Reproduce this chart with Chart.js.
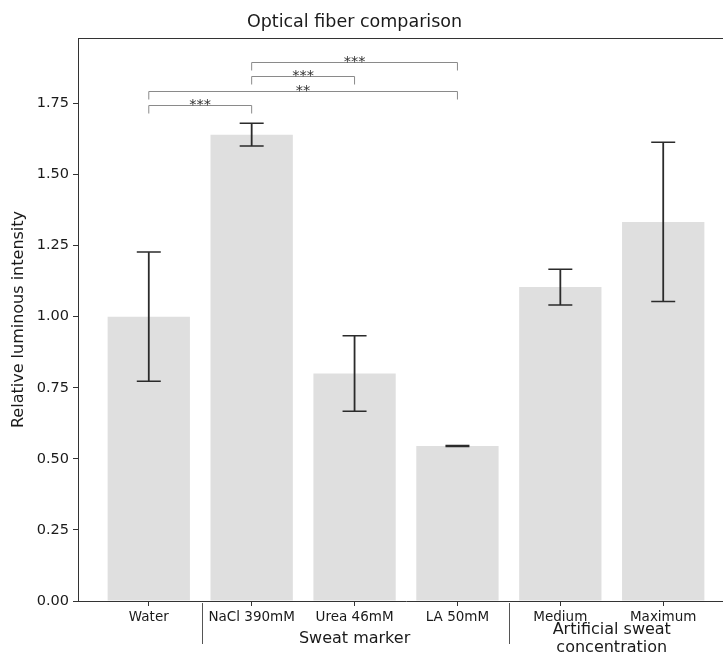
<!DOCTYPE html>
<html><head><meta charset="utf-8">
<script src="https://cdn.jsdelivr.net/npm/chart.js@4"></script>
<style>html,body{margin:0;padding:0;overflow:hidden;background:#fff}canvas{display:block}</style>
</head><body>
<canvas id="c" width="740" height="657"></canvas>
<script>
// ---- data ----
const categories = ['Water', 'NaCl 390mM', 'Urea 46mM', 'LA 50mM', 'Medium', 'Maximum'];
const meanValues = [1.00, 1.64, 0.80, 0.545, 1.104, 1.333];
const errorValues = [0.227, 0.04, 0.133, 0.002, 0.063, 0.28];
const yTickValues = [0, 0.25, 0.5, 0.75, 1.0, 1.25, 1.5, 1.75];
const groupLabels = [['Sweat marker'], ['Artificial sweat', 'concentration']];
const groupCenters = [2, 4.5];
const groupSeparators = [0.52, 3.5];
const bracketFrom = [0, 0, 1, 1];
const bracketTo = [1, 3, 2, 3];
const bracketLevel = [1.745, 1.795, 1.845, 1.895];
const bracketText = ['***', '**', '***', '***'];
const titleText = 'Optical fiber comparison';
const yTitleText = 'Relative luminous intensity';

const FONT = "'DejaVu Sans', 'Liberation Sans', sans-serif";

const overlay = {
  id: 'overlay',
  afterDatasetsDraw(chart) {
    const {ctx, scales: {x, y}} = chart;
    ctx.save();
    ctx.strokeStyle = '#2b2b2b';
    meanValues.forEach((m, i) => {
      const px = x.getPixelForValue(i);
      const top = y.getPixelForValue(m + errorValues[i]);
      const bot = y.getPixelForValue(m - errorValues[i]);
      ctx.lineWidth = 1.8;
      ctx.beginPath(); ctx.moveTo(px, top); ctx.lineTo(px, bot); ctx.stroke();
      ctx.lineWidth = 1.5;
      ctx.beginPath();
      ctx.moveTo(px - 12, top); ctx.lineTo(px + 12, top);
      ctx.moveTo(px - 12, bot); ctx.lineTo(px + 12, bot);
      ctx.stroke();
    });
    // significance brackets
    bracketFrom.forEach((f, i) => {
      const x1 = x.getPixelForValue(f);
      const x2 = x.getPixelForValue(bracketTo[i]);
      const py = Math.round(y.getPixelForValue(bracketLevel[i])) + 0.5;
      ctx.strokeStyle = '#8a8a8a';
      ctx.lineWidth = 1;
      ctx.beginPath();
      ctx.moveTo(x1, py + 8); ctx.lineTo(x1, py); ctx.lineTo(x2, py); ctx.lineTo(x2, py + 8);
      ctx.stroke();
      ctx.fillStyle = '#333';
      ctx.font = '14.5px ' + FONT;
      ctx.textAlign = 'center';
      ctx.textBaseline = 'alphabetic';
      ctx.fillText(bracketText[i], (x1 + x2) / 2, py + 3);
    });
    ctx.restore();
  },
  afterDraw(chart) {
    const {ctx, scales: {x}, chartArea: ca} = chart;
    ctx.save();
    // top spine
    ctx.strokeStyle = '#333';
    ctx.lineWidth = 1;
    ctx.beginPath();
    ctx.moveTo(ca.left, Math.round(ca.top) + 0.5);
    ctx.lineTo(ca.right, Math.round(ca.top) + 0.5);
    ctx.stroke();
    // title
    ctx.fillStyle = '#1a1a1a';
    ctx.font = '17.5px ' + FONT;
    ctx.textAlign = 'center';
    ctx.textBaseline = 'alphabetic';
    ctx.fillText(titleText, 354.5, 26.5);
    // y title
    ctx.save();
    ctx.translate(19, (ca.top + ca.bottom) / 2);
    ctx.rotate(-Math.PI / 2);
    ctx.font = '16px ' + FONT;
    ctx.textBaseline = 'middle';
    ctx.fillText(yTitleText, 0, 0);
    ctx.restore();
    // group separators
    ctx.strokeStyle = '#555';
    ctx.lineWidth = 1;
    groupSeparators.forEach(s => {
      const px = Math.round(x.getPixelForValue(s)) + 0.5;
      ctx.beginPath(); ctx.moveTo(px, 603); ctx.lineTo(px, 644); ctx.stroke();
    });
    // group labels
    ctx.font = '16px ' + FONT;
    ctx.fillStyle = '#1a1a1a';
    ctx.textBaseline = 'middle';
    groupLabels.forEach((lines, g) => {
      const px = x.getPixelForValue(groupCenters[g]);
      const start = lines.length === 1 ? 639 : 630;
      lines.forEach((t, k) => ctx.fillText(t, px, start + k * 17.5));
    });
    ctx.restore();
  }
};

new Chart(document.getElementById('c'), {
  type: 'bar',
  data: {
    datasets: [{
      data: meanValues.map((v, i) => ({x: i, y: v})),
      backgroundColor: 'rgb(223,223,223)',
      borderWidth: 0,
      barPercentage: 1.0,
      categoryPercentage: 0.8
    }]
  },
  options: {
    responsive: false,
    animation: false,
    layout: {padding: {top: 38, right: 6, left: 0, bottom: 0}},
    plugins: {legend: {display: false}, tooltip: {enabled: false}, title: {display: false}},
    scales: {
      x: {
        type: 'linear',
        offset: false,
        min: -0.688,
        max: 5.688,
        afterBuildTicks: s => { s.ticks = categories.map((c, i) => ({value: i})); },
        afterFit: s => { s.height = 56; },
        ticks: {
          callback: v => categories[v],
          autoSkip: false, maxRotation: 0,
          font: {family: FONT, size: 13.5}, color: '#1a1a1a', padding: 3
        },
        grid: {display: true, offset: false, drawOnChartArea: false, drawTicks: true, tickLength: 5, color: '#333'},
        border: {display: true, color: '#333', width: 1}
      },
      y: {
        min: 0,
        max: 1.98,
        afterBuildTicks: s => { s.ticks = yTickValues.map(v => ({value: v})); },
        afterFit: s => { s.width = 78; },
        ticks: {
          callback: v => Number(v).toFixed(2),
          font: {family: FONT, size: 14.5}, color: '#1a1a1a', padding: 4
        },
        grid: {display: true, drawOnChartArea: false, drawTicks: true, tickLength: 5, color: '#333'},
        border: {display: true, color: '#333', width: 1}
      }
    }
  },
  plugins: [overlay]
});
</script>
</body></html>
